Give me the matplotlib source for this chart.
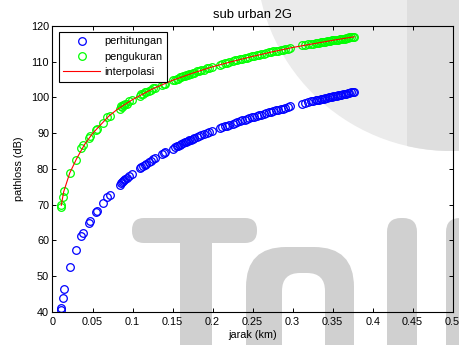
import matplotlib
matplotlib.use("Agg")
import matplotlib.pyplot as plt
from matplotlib.patches import Circle, Rectangle, FancyBboxPatch

# jarak (km) of each measurement point
jarak = [0.0110, 0.0112, 0.0130, 0.0140, 0.0215, 0.0292, 0.0362, 0.0378, 0.0455, 0.0470,
         0.0548, 0.0560, 0.0627, 0.0685, 0.0718,
         0.0840, 0.0855, 0.0868, 0.0880, 0.0895, 0.0910, 0.0927, 0.0950, 0.0990,
         0.1090, 0.1110, 0.1130, 0.1150, 0.1170, 0.1200, 0.1230, 0.1260, 0.1280,
         0.1370, 0.1390, 0.1410,
         0.1500, 0.1530, 0.1550, 0.1570, 0.1590, 0.1610, 0.1630, 0.1650, 0.1670, 0.1690,
         0.1710, 0.1730, 0.1750, 0.1770, 0.1800, 0.1830, 0.1860, 0.1890, 0.1930, 0.1960, 0.1990,
         0.2090, 0.2120, 0.2150, 0.2180, 0.2210, 0.2250, 0.2280, 0.2310, 0.2340, 0.2370,
         0.2400, 0.2430, 0.2460, 0.2490, 0.2520, 0.2550, 0.2580, 0.2610, 0.2640, 0.2670,
         0.2700, 0.2730, 0.2760, 0.2790, 0.2820, 0.2850, 0.2880, 0.2910, 0.2940, 0.2970,
         0.3120, 0.3150, 0.3190, 0.3230, 0.3260, 0.3290, 0.3310, 0.3330, 0.3350, 0.3370,
         0.3390, 0.3410, 0.3430, 0.3450, 0.3470, 0.3490, 0.3510, 0.3530, 0.3550, 0.3570,
         0.3590, 0.3610, 0.3630, 0.3650, 0.3670, 0.3690, 0.3710, 0.3730, 0.3750, 0.3770]

perhitungan = [40.5, 41.1, 43.8, 46.3, 52.4, 57.3, 61.2, 62.1, 64.8, 65.5, 67.8, 68.3, 70.4, 72.0, 72.7,
               75.5, 76.1, 76.3, 76.6, 76.9, 77.2, 77.5, 77.9, 78.6,
               80.3, 80.6, 80.9, 81.2, 81.5, 81.9, 82.3, 82.7, 83.0,
               84.2, 84.4, 84.7,
               85.7, 86.1, 86.3, 86.5, 86.7, 86.9, 87.2, 87.4, 87.6, 87.8, 88.0, 88.2, 88.4, 88.6,
               88.9, 89.1, 89.4, 89.7, 90.1, 90.3, 90.6,
               91.4, 91.7, 91.9, 92.1, 92.4, 92.7, 92.9, 93.1, 93.4, 93.6, 93.8, 94.0, 94.2, 94.4,
               94.6, 94.8, 95.0, 95.2, 95.4, 95.6, 95.8, 96.0, 96.2, 96.4, 96.6, 96.7, 96.9, 97.1,
               97.3, 97.5,
               98.3, 98.5, 98.7, 98.9, 99.0, 99.2, 99.3, 99.4, 99.5, 99.6, 99.7, 99.8, 99.9, 100.0,
               100.1, 100.2, 100.3, 100.4, 100.5, 100.6, 100.7, 100.8, 100.9, 101.0, 101.1, 101.2,
               101.3, 101.4, 101.4, 101.5]

pengukuran = [69.4, 70.0, 72.2, 73.8, 78.8, 82.4, 85.8, 86.6, 88.6, 89.2, 91.0, 91.3, 92.9, 94.4, 94.9,
              96.9, 97.5, 97.4, 97.9, 97.8, 98.3, 98.3, 98.9, 99.2,
              100.4, 100.9, 101.0, 101.4, 101.4, 101.9, 102.1, 102.6, 102.6,
              103.5, 103.9, 103.9,
              104.8, 104.9, 105.3, 105.3, 105.6, 105.6, 105.9, 106.0, 106.3, 106.3, 106.6, 106.6,
              106.9, 106.9, 107.3, 107.3, 107.7, 107.8, 108.2, 108.2, 108.6,
              109.2, 109.3, 109.6, 109.7, 110.0, 110.1, 110.4, 110.4, 110.7, 110.8, 111.1, 111.1,
              111.4, 111.5, 111.6, 111.9, 111.9, 112.2, 112.3, 112.4, 112.6, 112.7, 112.9, 113.0,
              113.1, 113.3, 113.4, 113.6, 113.7, 113.9,
              114.6, 114.6, 114.9, 114.9, 115.1, 115.2, 115.3, 115.3, 115.5, 115.5, 115.6, 115.6,
              115.8, 115.8, 115.9, 116.0, 116.0, 116.1, 116.2, 116.2, 116.4, 116.4, 116.5, 116.5,
              116.6, 116.7, 116.8, 116.8, 116.9, 117.0]

# red interpolation curve
jarak_interp = [0.011, 0.014, 0.0215, 0.03, 0.04, 0.05, 0.06, 0.07, 0.08, 0.09, 0.10, 0.125,
                0.15, 0.175, 0.20, 0.225, 0.25, 0.275, 0.30, 0.325, 0.35, 0.377]
interpolasi = [69.8, 73.6, 78.8, 82.8, 86.8, 89.9, 92.3, 94.7, 96.5, 98.0, 99.4, 102.4,
               104.8, 106.8, 108.6, 110.1, 111.5, 112.8, 114.0, 115.0, 116.0, 117.0]

xticks = [0, 0.05, 0.1, 0.15, 0.2, 0.25, 0.3, 0.35, 0.4, 0.45, 0.5]
xticklabels = ["0", "0.05", "0.1", "0.15", "0.2", "0.25", "0.3", "0.35", "0.4", "0.45", "0.5"]
yticks = [40, 50, 60, 70, 80, 90, 100, 110, 120]

plt.rcParams['font.family'] = ['Liberation Sans', 'DejaVu Sans']
plt.rcParams['font.size'] = 7.8

fig = plt.figure(figsize=(4.6, 3.45), dpi=100)
fig.patch.set_facecolor('white')

# watermark behind the plot, drawn in pixel units
wm = fig.add_axes([0, 0, 1, 1], zorder=-1)
wm.set_xlim(0, 460)
wm.set_ylim(345, 0)
wm.axis('off')
wm.add_patch(Circle((451, -44), 195, color='#ebebeb', lw=0))
band = Circle((451, -44), 195, color='#dedede', lw=0)
wm.add_patch(band)
clip = Rectangle((407, -100), 100, 300, transform=wm.transData)
band.set_clip_path(clip)
grey = '#d0d0d0'
wm.add_patch(FancyBboxPatch((132, 218), 125, 25, boxstyle='round,pad=0,rounding_size=12',
                            color=grey, lw=0))
wm.add_patch(Rectangle((180, 225), 32, 140, color=grey, lw=0))
wm.add_patch(FancyBboxPatch((246, 247), 108, 150, boxstyle='round,pad=0,rounding_size=40',
                            color=grey, lw=0))
wm.add_patch(FancyBboxPatch((282, 273), 43, 120, boxstyle='round,pad=0,rounding_size=18',
                            color='white', lw=0))
wm.add_patch(FancyBboxPatch((387, 218), 30, 150, boxstyle='round,pad=0,rounding_size=14',
                            color=grey, lw=0))
wm.add_patch(FancyBboxPatch((446, 218), 30, 150, boxstyle='round,pad=0,rounding_size=14',
                            color=grey, lw=0))

ax = fig.add_axes([0.1141, 0.0965, 0.870, 0.828])
ax.set_facecolor('none')

ax.plot(jarak, perhitungan, 'o', mfc='none', mec='#0000ff', ms=5.5, mew=0.9, label='perhitungan')
ax.plot(jarak, pengukuran, 'o', mfc='none', mec='#00ff00', ms=5.5, mew=0.9, label='pengukuran')
ax.plot(jarak_interp, interpolasi, '-', color='#ff0000', lw=0.8, label='interpolasi')

ax.set_xlim(0, 0.5)
ax.set_ylim(40, 120)
ax.set_xticks(xticks)
ax.set_xticklabels(xticklabels)
ax.set_yticks(yticks)
ax.tick_params(direction='in', length=3, width=0.7, top=True, right=True, colors='black')
ax.tick_params(axis='x', pad=4)
ax.tick_params(axis='y', pad=2.5)
for s in ax.spines.values():
    s.set_linewidth(0.8)

ax.set_title('sub urban 2G', pad=6)
ax.set_xlabel('jarak (km)', labelpad=2)
ax.set_ylabel('pathloss (dB)', labelpad=5)

leg = ax.legend(loc='upper left', bbox_to_anchor=(0.016, 0.979), borderaxespad=0,
                fancybox=False, framealpha=1, edgecolor='black', handlelength=3.4,
                handletextpad=0.4, labelspacing=0.5, borderpad=0.4, fontsize=7.8)
leg.get_frame().set_linewidth(0.8)

fig.savefig('out.png', dpi=100)
